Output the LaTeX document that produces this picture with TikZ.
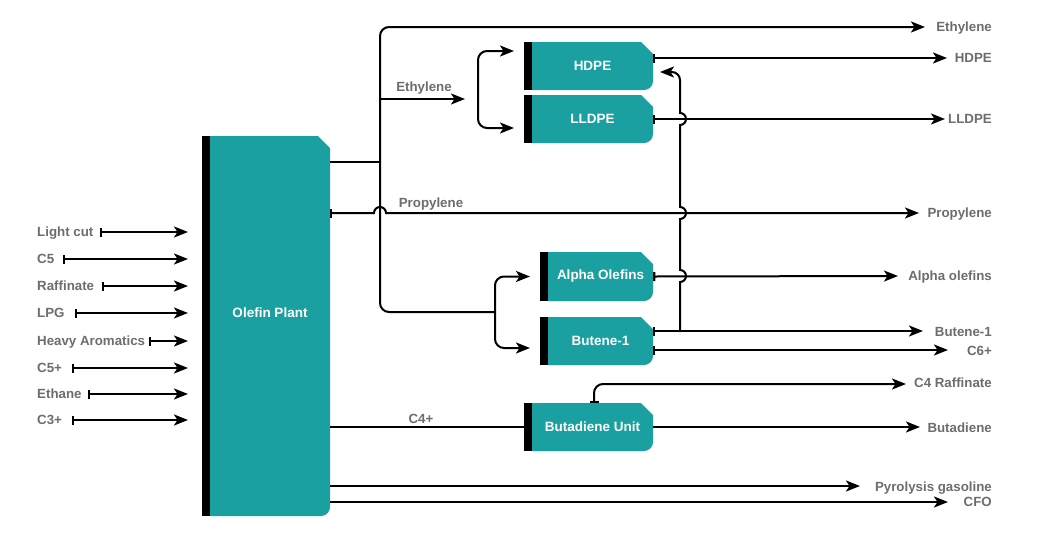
\documentclass[tikz,border=0pt]{standalone}
\usepackage{fontspec}
\setmainfont{Liberation Sans}
\usetikzlibrary{arrows.meta,calc,backgrounds}
\definecolor{unitteal}{RGB}{26,160,160}
\definecolor{labgray}{RGB}{108,109,113}
\newcommand\unitshape[1]{%
  \begin{pgfonlayer}{background}
  \fill[unitteal] (#1.north west) -- ($(#1.north east)+(-12,0)$) -- ($(#1.north east)+(0,-12)$) -- ($(#1.south east)+(0,9)$) arc[start angle=0,end angle=-90,radius=9] -- (#1.south west) -- cycle;
  \fill[black] (#1.north west) rectangle ($(#1.south west)+(-8.5,0)$);
  \end{pgfonlayer}}
\begin{document}
\begin{tikzpicture}[x=1pt,y=1pt,
  ln/.style={line width=2pt},
  tip/.style={},
  arr/.style={ln,-{Stealth[length=14pt,width=11pt,inset=3.5pt]}},
  bararr/.style={ln,{Bar[width=9pt,line width=2.4pt]}-{Stealth[length=14pt,width=11pt,inset=3.5pt]}},
  box/.style={inner sep=0,outer sep=0,draw=none,text=white,font=\fontsize{13.5}{16}\selectfont\bfseries},
  lab/.style={text=labgray,font=\fontsize{13.3}{16}\selectfont\bfseries,inner sep=0},
]
\begin{pgfonlayer}{background}
\fill[white] (0,0) rectangle (1047,-542);
\end{pgfonlayer}
\useasboundingbox (0,0) rectangle (1047,-542);

% units
\node[box,minimum width=120pt,minimum height=380pt] (olefin) at (270,-326) {};
\node[box] (olefinT) at (270,-313) {Olefin Plant};
\node[box,minimum width=121pt,minimum height=48pt] (hdpe) at (592.5,-66) {HDPE};
\node[box,minimum width=121pt,minimum height=48pt] (lldpe) at (592.5,-119) {LLDPE};
\node[box,minimum width=105pt,minimum height=49pt] (alpha) at (600.5,-276.5) {Alpha Olefins};
\node[box,minimum width=105pt,minimum height=48pt] (butene) at (600.5,-341) {Butene-1};
\node[box,minimum width=121pt,minimum height=48pt] (bd) at (592.5,-427) {Butadiene Unit};
\unitshape{olefin}\unitshape{hdpe}\unitshape{lldpe}\unitshape{alpha}\unitshape{butene}\unitshape{bd}

% inputs
\foreach \n/\t/\y/\bx in {iA/Light cut/232/100, iB/C5/259/63, iC/Raffinate/286/102, iD/LPG/313/75, iE/Heavy Aromatics/341/149, iF/C5+/368/72, iG/Ethane/394/88, iH/C3+/420/72}{
  \node[lab,anchor=base west] (\n) at (37,-\y-4.8) {\t};
  \coordinate (\n s) at (\bx,-\y);
  \draw[bararr,shorten >=22pt] (\n s) -- (olefin.west |- \n s);
}

% output labels
\foreach \n/\t/\y in {oEth/Ethylene/27, oHDPE/HDPE/58, oLLDPE/LLDPE/119, oProp/Propylene/213, oAlpha/Alpha olefins/276, oBut/Butene-1/332, oC6/C6+/351, oC4R/C4 Raffinate/383, oBd/Butadiene/428, oPyr/Pyrolysis gasoline/487, oCFO/CFO/502}{
  \node[lab,anchor=base east] (\n) at (992,-\y-4.8) {\t};
}
\coordinate (tEth) at (925,-27);
\coordinate (tHDPE) at (947,-58);
\coordinate (tLLDPE) at (945,-119);
\coordinate (tProp) at (919,-213);
\coordinate (tAlpha) at (898,-276);
\coordinate (tBut) at (923,-331);
\coordinate (tC6) at (948,-350);
\coordinate (tC4R) at (906,-384);
\coordinate (tBd) at (920,-427);
\coordinate (tPyr) at (860,-486);
\coordinate (tCFO) at (948,-502);

% trunk
\coordinate (j1) at (380,-162);
\coordinate (jBr) at (495,-312);
\draw[ln] (olefin.east |- j1) -- (j1);
\draw[arr,rounded corners=9] (j1) |- (tEth);
\draw[ln,rounded corners=9] (j1) |- (jBr);
\draw[arr,rounded corners=9] (jBr) |- ([xshift=-18pt]alpha.west);
\draw[arr,rounded corners=9] (jBr) |- ([xshift=-18pt,yshift=-7pt]butene.west);

% ethylene branch
\coordinate (jE) at (380,-99);
\coordinate (tE) at (465,-99);
\draw[arr] (jE) -- (tE);
\node[lab,anchor=base] (lEth) at (424,-87-4.8) {Ethylene};
\coordinate (kB) at (478,-89);
\draw[arr,rounded corners=9] (kB) |- ([xshift=-18pt,yshift=15pt]hdpe.west);
\draw[arr,rounded corners=9] (kB) |- ([xshift=-18pt,yshift=-9pt]lldpe.west);

% propylene
\coordinate (pj) at (330,-213);
\draw[bararr] (olefin.east |- pj) -- (374,-213) arc[start angle=180,end angle=0,radius=6] -- (tProp);
\node[lab,anchor=base] (lProp) at (431,-203-4.8) {Propylene};

% product outputs
\draw[bararr] ([yshift=8pt]hdpe.east) -- (tHDPE);
\draw[bararr] (lldpe.east) -- (tLLDPE);
\draw[bararr] (alpha.east) -- (tAlpha);
\draw[bararr] ([yshift=10pt]butene.east) -- (tBut);
\draw[bararr] ([yshift=-9pt]butene.east) -- (tC6);
\draw[arr] (bd.east) -- (tBd);
\draw[bararr,rounded corners=9] ([xshift=1.5pt]bd.north) |- (tC4R);

% recycle to HDPE
\coordinate (rB) at (680,-331);
\coordinate (tRec) at (660,-72);
\draw[ln] (rB) -- (680,-282) arc[start angle=-90,end angle=90,radius=6] -- (680,-219) arc[start angle=-90,end angle=90,radius=6] -- (680,-125) arc[start angle=-90,end angle=90,radius=6] -- (680,-108);
\draw[arr,rounded corners=8] (680,-108) |- (tRec);

% C4+
\draw[ln] (olefin.east |- bd.west) -- ([xshift=-8.5pt]bd.west);
\node[lab,anchor=base] (lC4) at (421,-419-4.8) {C4+};

% bottom outputs
\draw[arr] (olefin.east |- tPyr) -- (tPyr);
\draw[arr] (olefin.east |- tCFO) -- (tCFO);
\end{tikzpicture}
\end{document}
